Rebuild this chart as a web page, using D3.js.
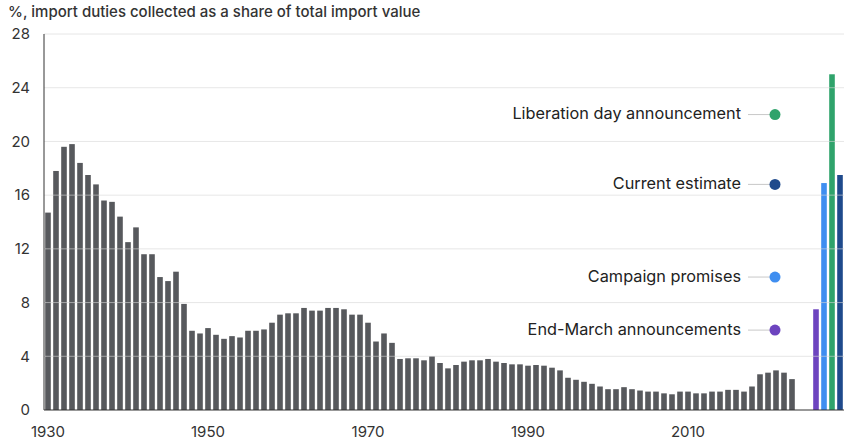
<!DOCTYPE html>
<html lang="en">
<head>
    <meta charset="UTF-8">
    <title>Import duties as a share of import value</title>
    <script src="https://d3js.org/d3.v7.min.js"></script>
    <style>
        body { margin: 0; background: #fff; }
        svg text { font-family: Inter, "Noto Sans", sans-serif; fill: #222; }
        .title { font-size: 15px; font-weight: 500; fill: #333; }
        .tick-label { font-size: 15px; fill: #333; }
        .legend-label { font-size: 16.3px; }
    </style>
</head>
<body>
<div id="chart"></div>
<script>
    // annual average tariff rate, 1930-2023
    const years = d3.range(1930, 2024);
    const duties = [
        14.7, 17.8, 19.6, 19.8, 18.4, 17.5, 16.8, 15.6, 15.5, 14.4,
        12.5, 13.6, 11.6, 11.6, 9.9, 9.6, 10.3, 7.9, 5.9, 5.7,
        6.1, 5.6, 5.3, 5.5, 5.4, 5.9, 5.9, 6.0, 6.5, 7.1,
        7.2, 7.2, 7.6, 7.4, 7.4, 7.6, 7.6, 7.5, 7.1, 7.1,
        6.5, 5.1, 5.7, 5.0, 3.8, 3.85, 3.85, 3.7, 4.0, 3.5,
        3.1, 3.35, 3.6, 3.7, 3.7, 3.8, 3.6, 3.5, 3.4, 3.4,
        3.3, 3.35, 3.3, 3.15, 2.95, 2.4, 2.25, 2.1, 1.95, 1.75,
        1.55, 1.55, 1.7, 1.55, 1.45, 1.37, 1.37, 1.24, 1.17, 1.37,
        1.37, 1.24, 1.24, 1.37, 1.37, 1.5, 1.5, 1.37, 1.75, 2.66,
        2.78, 2.95, 2.78, 2.3
    ];

    // scenario bars (drawn after a two-slot gap)
    const scenarioNames = ["End-March announcements", "Campaign promises", "Liberation day announcement", "Current estimate"];
    const scenarioValues = [7.5, 16.9, 25.0, 17.5];
    const scenarioColors = ["#6d44bf", "#3f8ef0", "#2fa36b", "#1f4a8c"];
    const scenarioSlots = [2026, 2027, 2028, 2029];
    // where each legend label sits, in % units
    const labelLevels = [5.95, 9.9, 22.0, 16.8];

    const xTicks = [1930, 1950, 1970, 1990, 2010];
    const yTicks = [0, 4, 8, 12, 16, 20, 24, 28];

    const width = 849, height = 446;
    const margin = { top: 34, right: 5, bottom: 36, left: 44 };

    const svg = d3.select("#chart").append("svg")
        .attr("width", width)
        .attr("height", height);

    const x = d3.scaleBand()
        .domain(d3.range(1930, 2030))
        .range([margin.left, width - margin.right])
        .paddingInner(0.3)
        .paddingOuter(0.15);

    const y = d3.scaleLinear()
        .domain([0, 28])
        .range([height - margin.bottom, margin.top]);

    svg.append("text")
        .attr("class", "title")
        .attr("x", 8)
        .attr("y", 17)
        .text("%, import duties collected as a share of total import value");

    // historical bars
    svg.append("g")
        .selectAll("rect")
        .data(years.map((yr, i) => ({ year: yr, value: duties[i] })))
        .join("rect")
        .attr("x", d => x(d.year))
        .attr("width", x.bandwidth())
        .attr("y", d => y(d.value))
        .attr("height", d => y(0) - y(d.value))
        .attr("fill", "#57595d");

    // scenario bars
    svg.append("g")
        .selectAll("rect")
        .data(scenarioValues.map((v, i) => ({ slot: scenarioSlots[i], value: v, color: scenarioColors[i] })))
        .join("rect")
        .attr("x", d => x(d.slot))
        .attr("width", x.bandwidth())
        .attr("y", d => y(d.value))
        .attr("height", d => y(0) - y(d.value))
        .attr("fill", d => d.color);

    // gridlines sit faintly over the bars
    svg.append("g")
        .selectAll("line")
        .data(yTicks.filter(t => t > 0))
        .join("line")
        .attr("x1", margin.left)
        .attr("x2", width - margin.right)
        .attr("y1", d => y(d))
        .attr("y2", d => y(d))
        .attr("stroke", "#d6d6d6")
        .attr("stroke-opacity", 0.6);

    // axes lines
    svg.append("line")
        .attr("x1", margin.left).attr("x2", margin.left)
        .attr("y1", y(28)).attr("y2", y(0))
        .attr("stroke", "#333");
    svg.append("line")
        .attr("x1", margin.left).attr("x2", width - margin.right)
        .attr("y1", y(0)).attr("y2", y(0))
        .attr("stroke", "#333");

    svg.append("g")
        .selectAll("text")
        .data(yTicks)
        .join("text")
        .attr("class", "tick-label")
        .attr("x", 30)
        .attr("y", d => y(d))
        .attr("dy", "0.35em")
        .attr("text-anchor", "end")
        .text(d => d);

    svg.append("g")
        .selectAll("text")
        .data(xTicks)
        .join("text")
        .attr("class", "tick-label")
        .attr("x", d => x(d) + x.bandwidth() / 2)
        .attr("y", 437)
        .attr("text-anchor", "middle")
        .text(d => d);

    // legend labels with leader line and dot
    const legend = svg.append("g")
        .selectAll("g")
        .data(scenarioNames.map((n, i) => ({ name: n, level: labelLevels[i], color: scenarioColors[i] })))
        .join("g")
        .attr("transform", d => `translate(0,${y(d.level)})`);

    legend.append("line")
        .attr("x1", 748).attr("x2", 770)
        .attr("stroke", "#c8c8c8");
    legend.append("circle")
        .attr("cx", 775)
        .attr("r", 5.5)
        .attr("fill", d => d.color);
    legend.append("text")
        .attr("class", "legend-label")
        .attr("x", 741)
        .attr("dy", "0.3em")
        .attr("text-anchor", "end")
        .text(d => d.name);
</script>
</body>
</html>
